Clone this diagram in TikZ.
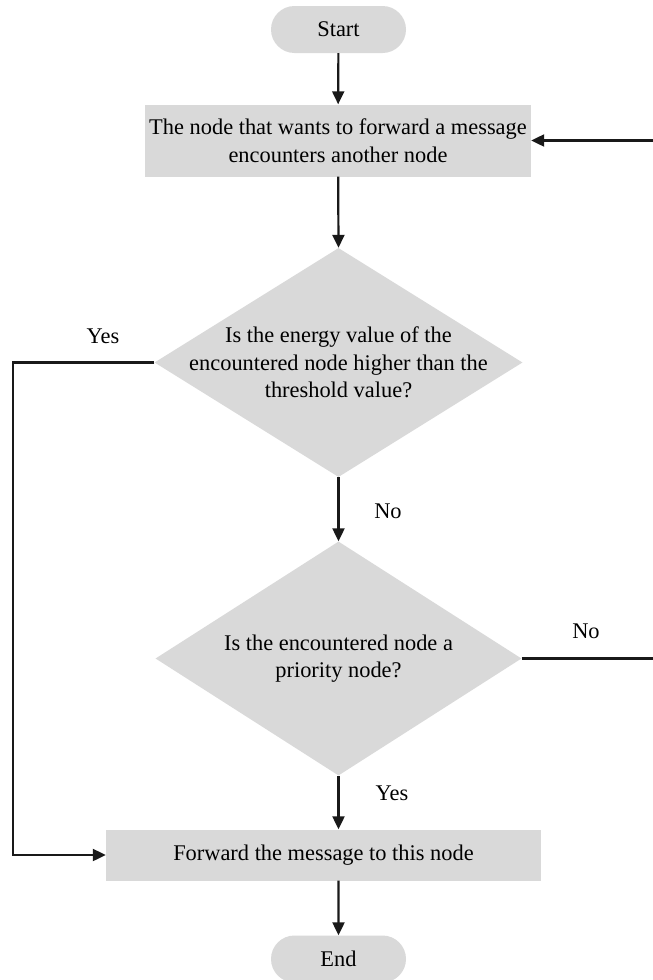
\documentclass[tikz,border=0pt]{standalone}
\usepackage{fontspec}
\setmainfont{Liberation Serif}
\usetikzlibrary{shapes.geometric,shapes.misc,arrows.meta}
\definecolor{boxgray}{HTML}{D9D9D9}
\begin{document}
\begin{tikzpicture}[x=1pt,y=-1pt,
  every node/.style={font=\fontsize{22.4}{27.5}\selectfont},
  terminal/.style={rounded rectangle, fill=boxgray, minimum width=135pt, minimum height=47pt, inner sep=0pt},
  process/.style={rectangle, fill=boxgray, inner sep=0pt},
  decision/.style={diamond, fill=boxgray, inner sep=0pt},
  flow/.style={line width=2.2pt, draw=black!90, -{Triangle[length=13pt,width=12pt]}},
  lbl/.style={inner sep=0pt}]
\clip (0,0) rectangle (653,980);
\fill[white] (0,0) rectangle (653,980);

% terminals
\node[terminal] (start) at (338.5,29.5) {Start};
\node[terminal] (end) at (338.5,959) {End};

% process boxes
\node[process, minimum width=386pt, minimum height=72pt] (b1) at (338,140.5) {};
\node[align=center, lbl] (b1t) at (b1) {The node that wants to forward a message\\encounters another node};
\node[process, minimum width=435pt, minimum height=51pt] (b2) at (323.5,855) {};
\node[lbl] (b2t) at (b2) {Forward the message to this node};

% decisions
\node[decision, minimum width=368pt, minimum height=229pt] (d1) at (338.5,362.5) {};
\node[align=center, lbl] (d1t) at (d1) {Is the energy value of the\\encountered node higher than the\\threshold value?};
\node[decision, minimum width=366pt, minimum height=234pt] (d2) at (338.5,658.5) {};
\node[align=center, lbl] (d2t) at (d2) {Is the encountered node a\\priority node?};

% branch labels
\node[lbl] (yes1) at (103,336) {Yes};
\node[lbl] (no1) at (388,511) {No};
\node[lbl] (no2) at (586,631) {No};
\node[lbl] (yes2) at (392,793) {Yes};

% routing corners
\coordinate (lc) at (13,362.5);
\coordinate (rc) at (664,658.5);

% connectors
\draw[flow] (start) -- (b1);
\draw[flow] (b1) -- (d1.north);
\draw[flow] (d1.south) -- (d2.north);
\draw[flow] (d2.south) -- (d2.south |- b2.north);
\draw[flow] (end.north |- b2.south) -- (end);
\draw[flow] (d1.west) -- (lc) |- (b2.west);
\draw[flow] (d2.east) -- (rc) |- (b1.east);
\end{tikzpicture}
\end{document}
